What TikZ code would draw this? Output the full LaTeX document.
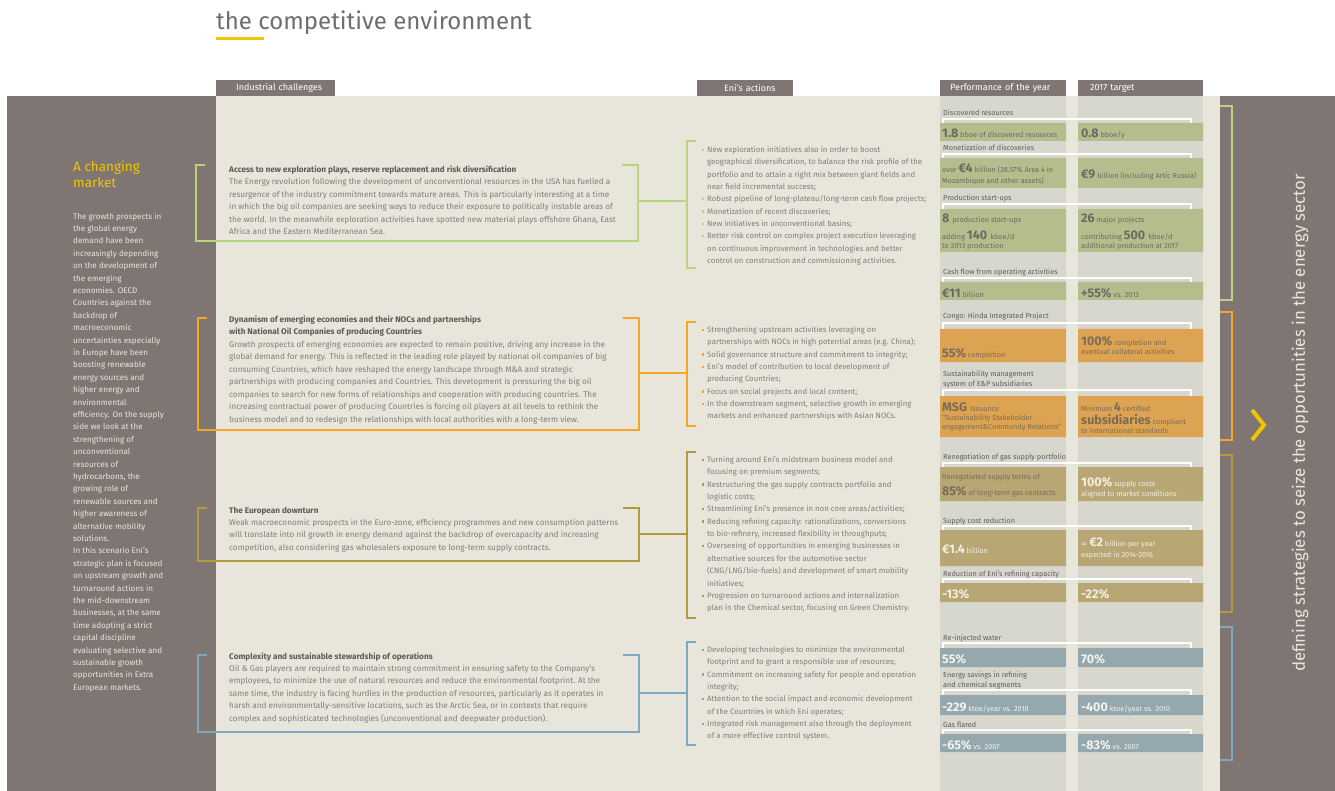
\documentclass[tikz,border=0pt]{standalone}
\usepackage{fontspec}
\setmainfont{Fira Sans}
\newfontfamily\symfont{DejaVu Sans}
\usetikzlibrary{positioning}

\definecolor{bandgray}{HTML}{7F7673}
\definecolor{paper}{HTML}{E8E6DA}
\definecolor{colgray}{HTML}{D8D7CE}
\definecolor{titlegray}{HTML}{6E6E6E}
\definecolor{titleyellow}{HTML}{F2C500}
\definecolor{chhead}{HTML}{5B5B5B}
\definecolor{chbody}{HTML}{7E7E7E}
\definecolor{labelgray}{HTML}{5E5E5E}
\definecolor{brgreen}{HTML}{B9D47C}
\definecolor{brorange}{HTML}{F5A623}
\definecolor{brolive}{HTML}{B39A3C}
\definecolor{brblue}{HTML}{7CA8C0}
\definecolor{bargreen}{HTML}{B4BE8C}
\definecolor{barorange}{HTML}{DCA352}
\definecolor{barolive}{HTML}{B8A675}
\definecolor{barblue}{HTML}{95A8AD}
\definecolor{valgreen}{HTML}{6A6A62}
\definecolor{valorange}{HTML}{7D6C55}
\definecolor{valolive}{HTML}{F3EFE3}
\definecolor{valblue}{HTML}{F3F3F0}

\newcommand\itm[1]{\llap{\textcolor{#1}{\rule[1.6pt]{2.2pt}{2.2pt}}\hspace{3.5pt}}}
\newcommand\bignum[1]{{\fontsize{12.5}{12.5}\selectfont\bfseries #1}}

\tikzset{
  tab/.style={fill=bandgray, text=white, inner xsep=0pt, inner ysep=0pt, minimum height=16pt,
    anchor=north west, align=left, font=\fontsize{9}{10}\selectfont},
  sidetext/.style={anchor=base west, inner sep=0pt, align=left, text=paper,
    font=\fontsize{8.1}{12.4}\selectfont},
  chtext/.style={anchor=base west, inner sep=0pt, align=left, text=chbody,
    font=\fontsize{8.2}{12.45}\selectfont},
  acttext/.style={anchor=base west, inner sep=0pt, align=left, text=chbody,
    font=\fontsize{7.8}{12.35}\selectfont},
  frame/.style={line width=2.4pt},
  wline/.style={white, line width=1.3pt},
  plabel/.style={anchor=base west, inner sep=0pt, align=left, text=labelgray,
    font=\fontsize{7.3}{10}\selectfont},
  pval/.style={anchor=base west, inner sep=0pt, align=left, font=\fontsize{7.3}{9}\selectfont},
}

\begin{document}
\begin{tikzpicture}[x=1pt,y=-1pt]
  \useasboundingbox (0,0) rectangle (1335,791);
  %draw backgrounds
    \fill[white] (0,0) rectangle (1335,791);
    \fill[bandgray] (7,96) rectangle (1335,791);
    \fill[paper] (216,96) rectangle (1220,791);
    \fill[colgray] (940,96) rectangle (1066,791);
    \fill[colgray] (1078,96) rectangle (1203,791);
  %title
    \node[anchor=base west, inner sep=0pt, text=titlegray, font=\fontsize{24}{24}\selectfont] (title) at (216,30) {the competitive environment};
    \fill[titleyellow] (216,37) rectangle (264,40);
  %column tabs
    \node[tab, text width=119pt] (tabch) at (216,80) {\hspace*{20pt}Industrial challenges};
    \node[tab, text width=96pt] (tabact) at (697,80) {\hspace*{27pt}Eni's actions};
    \node[tab, text width=126pt] (tabperf) at (940,80) {\hspace*{10pt}Performance of the year};
    \node[tab, text width=125pt] (tabtarget) at (1078,80) {\hspace*{12pt}2017 target};
  %left column (base = last line)
    \node[anchor=base west, inner sep=0pt, align=left, text=titleyellow, font=\fontsize{13.5}{16}\selectfont] (market) at (73,188) {A changing\\market};
    \node[sidetext] (scenario) at (73,690.2) {The growth prospects in\\the global energy\\demand have been\\increasingly depending\\on the development of\\the emerging\\economies. OECD\\Countries against the\\backdrop of\\macroeconomic\\uncertainties especially\\in Europe have been\\boosting renewable\\energy sources and\\higher energy and\\environmental\\efficiency. On the supply\\side we look at the\\strengthening of\\unconventional\\resources of\\hydrocarbons, the\\growing role of\\renewable sources and\\higher awareness of\\alternative mobility\\solutions.\\In this scenario Eni's\\strategic plan is focused\\on upstream growth and\\turnaround actions in\\the mid-downstream\\businesses, at the same\\time adopting a strict\\capital discipline\\evaluating selective and\\sustainable growth\\opportunities in Extra\\European markets.};
  %industrial challenges
    \node[chtext] (chexpl) at (229,234.75) {{\bfseries\color{chhead}Access to new exploration plays, reserve replacement and risk diversification}\\The Energy revolution following the development of unconventional resources in the USA has fuelled a\\resurgence of the industry commitment towards mature areas. This is particularly interesting at a time\\in which the big oil companies are seeking ways to reduce their exposure to politically instable areas of\\the world. In the meanwhile exploration activities have spotted new material plays offshore Ghana, East\\Africa and the Eastern Mediterranean Sea.};
    \node[chtext] (chnoc) at (229,422.1) {{\bfseries\color{chhead}Dynamism of emerging economies and their NOCs and partnerships}\\{\bfseries\color{chhead}with National Oil Companies of producing Countries}\\Growth prospects of emerging economies are expected to remain positive, driving any increase in the\\global demand for energy. This is reflected in the leading role played by national oil companies of big\\consuming Countries, which have reshaped the energy landscape through M\&A and strategic\\partnerships with producing companies and Countries. This development is pressuring the big oil\\companies to search for new forms of relationships and cooperation with producing countries. The\\increasing contractual power of producing Countries is forcing oil players at all levels to rethink the\\business model and to redesign the relationships with local authorities with a long-term view.};
    \node[chtext] (cheuro) at (229,550.35) {{\bfseries\color{chhead}The European downturn}\\Weak macroeconomic prospects in the Euro-zone, efficiency programmes and new consumption patterns\\will translate into nil growth in energy demand against the backdrop of overcapacity and increasing\\competition, also considering gas wholesalers exposure to long-term supply contracts.};
    \node[chtext] (chops) at (229,721.25) {{\bfseries\color{chhead}Complexity and sustainable stewardship of operations}\\Oil \& Gas players are required to maintain strong commitment in ensuring safety to the Company's\\employees, to minimize the use of natural resources and reduce the environmental footprint. At the\\same time, the industry is facing hurdles in the production of resources, particularly as it operates in\\harsh and environmentally-sensitive locations, such as the Arctic Sea, or in contexts that require\\complex and sophisticated technologies (unconventional and deepwater production).};
  %eni's actions
    \node[acttext] (actexpl) at (707,263.65) {\itm{brgreen}New exploration initiatives also in order to boost\\geographical diversification, to balance the risk profile of the\\portfolio and to attain a right mix between giant fields and\\near field incremental success;\\\itm{brgreen}Robust pipeline of long-plateau/long-term cash flow projects;\\\itm{brgreen}Monetization of recent discoveries;\\\itm{brgreen}New initiatives in unconventional basins;\\\itm{brgreen}Better risk control on complex project execution leveraging\\on continuous improvement in technologies and better\\control on construction and commissioning activities.};
    \node[acttext] (actnoc) at (707,418.95) {\itm{brorange}Strengthening upstream activities leveraging on\\partnerships with NOCs in high potential areas (e.g. China);\\\itm{brorange}Solid governance structure and commitment to integrity;\\\itm{brorange}Eni's model of contribution to local development of\\producing Countries;\\\itm{brorange}Focus on social projects and local content;\\\itm{brorange}In the downstream segment, selective growth in emerging\\markets and enhanced partnerships with Asian NOCs.};
    \node[acttext] (acteuro) at (707,610.7) {\itm{brolive}Turning around Eni's midstream business model and\\focusing on premium segments;\\\itm{brolive}Restructuring the gas supply contracts portfolio and\\logistic costs;\\\itm{brolive}Streamlining Eni's presence in non core areas/activities;\\\itm{brolive}Reducing refining capacity: rationalizations, conversions\\to bio-refinery, increased flexibility in throughputs;\\\itm{brolive}Overseeing of opportunities in emerging businesses in\\alternative sources for the automotive sector\\(CNG/LNG/bio-fuels) and development of smart mobility\\initiatives;\\\itm{brolive}Progression on turnaround actions and internalization\\plan in the Chemical sector, focusing on Green Chemistry.};
    \node[acttext] (actops) at (707,738.95) {\itm{brblue}Developing technologies to minimize the environmental\\footprint and to grant a responsible use of resources;\\\itm{brblue}Commitment on increasing safety for people and operation\\integrity;\\\itm{brblue}Attention to the social impact and economic development\\of the Countries in which Eni operates;\\\itm{brblue}Integrated risk management also through the deployment\\of a more effective control system.};
  %draw challenge frames
    \draw[frame,brgreen] (205,165) -- (196,165) -- (196,241) -- (638,241) -- (638,165) -- (622,165);
    \draw[frame,brorange] (207,318) -- (198,318) -- (198,430) -- (639,430) -- (639,318) -- (623,318);
    \draw[frame,brolive] (207,508) -- (198,508) -- (198,561) -- (639,561) -- (639,508) -- (623,508);
    \draw[frame,brblue] (207,655) -- (198,655) -- (198,732) -- (639,732) -- (639,655) -- (623,655);
  %draw action brackets
    \draw[frame,brgreen] (696,141) -- (687,141) -- (687,268) -- (696,268);
    \draw[frame,brorange] (696,322) -- (687,322) -- (687,426) -- (696,426);
    \draw[frame,brolive] (696,452) -- (687,452) -- (687,618) -- (696,618);
    \draw[frame,brblue] (696,642) -- (687,642) -- (687,745) -- (696,745);
  %link challenges to actions
    \coordinate (chexplout) at (638,201);
    \coordinate (actexplin) at (687,201);
    \coordinate (chnocout) at (639,373);
    \coordinate (actnocin) at (687,373);
    \coordinate (cheuroout) at (639,534);
    \coordinate (acteuroin) at (687,534);
    \coordinate (chopsout) at (639,693);
    \coordinate (actopsin) at (687,693);
    \draw[frame,brgreen] (chexplout) -- (actexplin);
    \draw[frame,brorange] (chnocout) -- (actnocin);
    \draw[frame,brolive] (cheuroout) -- (acteuroin);
    \draw[frame,brblue] (chopsout) -- (actopsin);
  %performance bars
    \fill[bargreen] (940,123) rectangle (1066,141) (1078,123) rectangle (1203,141);
    \fill[bargreen] (940,158) rectangle (1066,188) (1078,158) rectangle (1203,188);
    \fill[bargreen] (940,209) rectangle (1066,252) (1078,209) rectangle (1203,252);
    \fill[bargreen] (940,282) rectangle (1066,300) (1078,282) rectangle (1203,300);
    \fill[barorange] (940,329) rectangle (1066,362) (1078,329) rectangle (1203,362);
    \fill[barorange] (940,396) rectangle (1066,437) (1078,396) rectangle (1203,437);
    \fill[barolive] (940,467) rectangle (1066,501) (1078,467) rectangle (1203,501);
    \fill[barolive] (940,530) rectangle (1066,566) (1078,530) rectangle (1203,566);
    \fill[barolive] (940,583) rectangle (1066,602) (1078,583) rectangle (1203,602);
    \fill[barblue] (940,648) rectangle (1066,667) (1078,648) rectangle (1203,667);
    \fill[barblue] (940,695) rectangle (1066,715) (1078,695) rectangle (1203,715);
    \fill[barblue] (940,734) rectangle (1066,752) (1078,734) rectangle (1203,752);
  %white row brackets
    \draw[wline] (943,123) |- (1191,119) -- (1191,123);
    \draw[wline] (943,158) |- (1191,154) -- (1191,158);
    \draw[wline] (943,209) |- (1191,204) -- (1191,209);
    \draw[wline] (943,282) |- (1191,278) -- (1191,282);
    \draw[wline] (943,329) |- (1191,323) -- (1191,329);
    \draw[wline] (943,396) |- (1191,390) -- (1191,396);
    \draw[wline] (943,467) |- (1191,463) -- (1191,467);
    \draw[wline] (943,530) |- (1191,526) -- (1191,530);
    \draw[wline] (943,583) |- (1191,579) -- (1191,583);
    \draw[wline] (943,648) |- (1191,643) -- (1191,648);
    \draw[wline] (943,695) |- (1191,690) -- (1191,695);
    \draw[wline] (943,734) |- (1191,730) -- (1191,734);
  %row labels
    \node[plabel] (lbdisc) at (943,116) {Discovered resources};
    \node[plabel] (lbmon) at (943,151) {Monetization of discoveries};
    \node[plabel] (lbprod) at (943,201) {Production start-ups};
    \node[plabel] (lbcash) at (943,275) {Cash flow from operating activities};
    \node[plabel] (lbcongo) at (943,319) {Congo: Hinda Integrated Project};
    \node[plabel] (lbmsg) at (943,386) {Sustainability management\\system of E\&P subsidiaries};
    \node[plabel] (lbgas) at (943,459) {Renegotiation of gas supply portfolio};
    \node[plabel] (lbcost) at (943,523) {Supply cost reduction};
    \node[plabel] (lbrefi) at (943,576) {Reduction of Eni's refining capacity};
    \node[plabel] (lbwater) at (943,640) {Re-injected water};
    \node[plabel] (lbsave) at (943,687) {Energy savings in refining\\and chemical segments};
    \node[plabel] (lbflare) at (943,727) {Gas flared};
  %values: performance of the year
    \node[pval, text=valgreen] (pdisc) at (942,138) {\bignum{1.8} bboe of discovered resources};
    \node[pval, text=valgreen] (pmon) at (942,173) {over \bignum{€4} billion (28.57\% Area 4 in};
    \node[pval, text=valgreen] (pmonb) at (942,184) {Mozambique and other assets)};
    \node[pval, text=valgreen] (pprod) at (942,223) {\bignum{8}\, production start-ups};
    \node[pval, text=valgreen] (pprodb) at (942,240) {adding \bignum{140}\, kboe/d};
    \node[pval, text=valgreen] (pprodc) at (942,249) {to 2013 production};
    \node[pval, text=valgreen] (pcash) at (942,298) {\bignum{€11} billion};
    \node[pval, text=valorange] (pcongo) at (942,357) {\bignum{55\%} completion};
    \node[pval, text=valorange] (pmsg) at (942,411) {\bignum{MSG}\, Issuance};
    \node[pval, text=valorange] (pmsgb) at (942,429) {“Sustainability Stakeholder\\engagement\&Community Relations”};
    \node[pval, text=valorange] (pgas) at (942,479) {Renegotiated supply terms of};
    \node[pval, text=valorange] (pgasb) at (942,495) {\bignum{85\%} of long-term gas contracts};
    \node[pval, text=valolive] (pcost) at (942,553) {\bignum{€1.4} billion};
    \node[pval, text=valolive] (prefi) at (942,598) {\bignum{-13\%}};
    \node[pval, text=valblue] (pwater) at (942,663) {\bignum{55\%}};
    \node[pval, text=valblue] (psave) at (942,711) {\bignum{-229} ktoe/year vs. 2010};
    \node[pval, text=valblue] (pflare) at (942,749) {\bignum{-65\%} vs. 2007};
  %values: 2017 target
    \node[pval, text=valgreen] (tdisc) at (1081,138) {\bignum{0.8} bboe/y};
    \node[pval, text=valgreen] (tmon) at (1081,179) {\bignum{€9} billion (including Artic Russia)};
    \node[pval, text=valgreen] (tprod) at (1081,223) {\bignum{26} major projects};
    \node[pval, text=valgreen] (tprodb) at (1081,240) {contributing \bignum{500}\, kboe/d};
    \node[pval, text=valgreen] (tprodc) at (1081,249) {additional production at 2017};
    \node[pval, text=valgreen] (tcash) at (1081,298) {\bignum{+55\%} vs. 2013};
    \node[pval, text=valorange] (tcongo) at (1081,345) {\bignum{100\%} completion and};
    \node[pval, text=valorange] (tcongob) at (1081,354) {eventual collateral activities};
    \node[pval, text=valorange] (tmsg) at (1081,411) {Minimum \bignum{4} certified};
    \node[pval, text=valorange] (tmsgb) at (1081,424) {\bignum{subsidiaries} compliant};
    \node[pval, text=valorange] (tmsgc) at (1081,433) {to International standards};
    \node[pval, text=valolive] (tgas) at (1081,486) {\bignum{100\%} supply costs};
    \node[pval, text=valolive] (tgasb) at (1081,496) {aligned to market conditions};
    \node[pval, text=valolive] (tcost) at (1081,546) {{\symfont≈} \bignum{€2} billion per year};
    \node[pval, text=valolive] (tcostb) at (1081,557) {expected in 2014-2016};
    \node[pval, text=valolive] (trefi) at (1081,598) {\bignum{-22\%}};
    \node[pval, text=valblue] (twater) at (1081,663) {\bignum{70\%}};
    \node[pval, text=valblue] (tsave) at (1081,711) {\bignum{-400} ktoe/year vs. 2010};
    \node[pval, text=valblue] (tflare) at (1081,749) {\bignum{-83\%} vs. 2007};
  %right brackets
    \draw[frame,brgreen] (1220,106) -- (1232,106) -- (1232,300) -- (1220,300);
    \draw[frame,brorange] (1220,312) -- (1232,312) -- (1232,440) -- (1220,440);
    \draw[frame,brolive] (1220,455) -- (1232,455) -- (1232,612) -- (1220,612);
    \draw[frame,brblue] (1220,627) -- (1232,627) -- (1232,760) -- (1220,760);
  %chevron and closing statement
    \draw[titleyellow, line width=4pt] (1252,410) -- (1264,425) -- (1252,440);
    \node[rotate=90, inner sep=0pt, text=paper, font=\fontsize{16.8}{18}\selectfont] (slogan) at (1300,423) {defining strategies to seize the opportunities in the energy sector};
\end{tikzpicture}
\end{document}
